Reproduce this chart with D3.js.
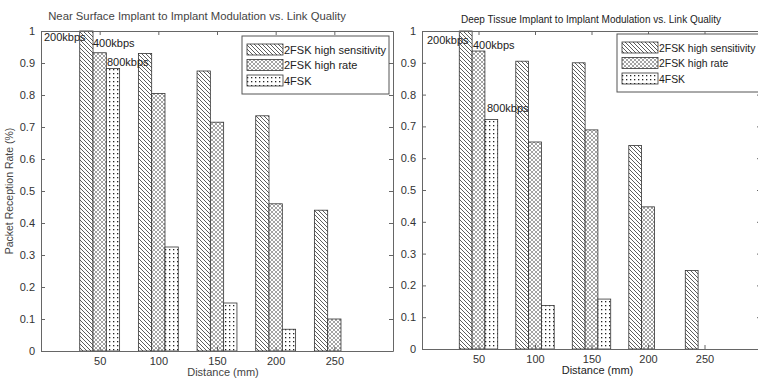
<!DOCTYPE html>
<html lang="en">
<head>
  <meta charset="UTF-8">
  <title>Implant to Implant Modulation vs. Link Quality</title>
  <script src="https://d3js.org/d3.v7.min.js"></script>
  <style>
    body { margin: 0; background: #fff; }
    svg { display: block; font-family: "Liberation Sans", Arial, sans-serif; }
    .axis path, .axis line { stroke: #666; }
    .axis text { fill: #333; font-size: 11px; }
    .bar { stroke: #333; stroke-width: 0.8; }
  </style>
</head>
<body>
  <svg width="758" height="381"></svg>
  <script>
    // values
    const distances = [50, 100, 150, 200, 250];
    const seriesNames = ["2FSK high sensitivity", "2FSK high rate", "4FSK"];
    const rateLabels = ["200kbps", "400kbps", "800kbps"];
    const yTicks = [0, 0.1, 0.2, 0.3, 0.4, 0.5, 0.6, 0.7, 0.8, 0.9, 1];

    const nearHighSens = [1.0, 0.93, 0.875, 0.735, 0.44];
    const nearHighRate = [0.932, 0.805, 0.715, 0.46, 0.1];
    const near4FSK = [0.883, 0.325, 0.15, 0.068, 0];

    const deepHighSens = [1.0, 0.905, 0.9, 0.64, 0.247];
    const deepHighRate = [0.937, 0.651, 0.689, 0.447, 0];
    const deep4FSK = [0.722, 0.137, 0.157, 0, 0];

    const svg = d3.select("svg");

    // fill patterns like the matlab hatchfill
    const defs = svg.append("defs");
    const hatch = defs.append("pattern").attr("id", "p0")
      .attr("patternUnits", "userSpaceOnUse").attr("width", 4).attr("height", 4);
    hatch.append("rect").attr("width", 4).attr("height", 4).attr("fill", "#fff");
    hatch.append("path").attr("d", "M0,0L4,4M-1,3L1,5M3,-1L5,1")
      .attr("stroke", "#333").attr("stroke-width", 0.8);

    const cross = defs.append("pattern").attr("id", "p1")
      .attr("patternUnits", "userSpaceOnUse").attr("width", 4).attr("height", 4);
    cross.append("rect").attr("width", 4).attr("height", 4).attr("fill", "#fff");
    cross.append("path").attr("d", "M0,0L4,4M-1,3L1,5M3,-1L5,1M0,4L4,0M-1,1L1,-1M3,5L5,3")
      .attr("stroke", "#666").attr("stroke-width", 0.6);

    const dots = defs.append("pattern").attr("id", "p2")
      .attr("patternUnits", "userSpaceOnUse").attr("width", 4).attr("height", 4);
    dots.append("rect").attr("width", 4).attr("height", 4).attr("fill", "#fff");
    dots.append("rect").attr("x", 1).attr("y", 1).attr("width", 1.3).attr("height", 1.3).attr("fill", "#222");

    function drawPanel(p) {
      const x = d3.scaleLinear().domain([0, 300]).range([p.left, p.right]);
      const y = d3.scaleLinear().domain([0, 1]).range([p.bottom, p.top]);
      const inner = d3.scaleBand().domain(seriesNames)
        .range([x(-17) - x(0), x(17) - x(0)]);

      const g = svg.append("g");

      // bars
      const series = [p.hs, p.hr, p.q];
      series.forEach((vals, si) => {
        g.append("g").selectAll("rect")
          .data(distances.map((d, i) => ({ d, v: vals[i] })).filter(e => e.v > 0))
          .join("rect")
          .attr("class", "bar")
          .attr("x", e => x(e.d) + inner(seriesNames[si]))
          .attr("y", e => y(e.v))
          .attr("width", inner.bandwidth())
          .attr("height", e => y(0) - y(e.v))
          .attr("fill", `url(#p${si})`);
      });

      // axes, matlab style: ticks inside, box on
      g.append("g").attr("class", "axis")
        .attr("transform", `translate(0,${p.bottom})`)
        .call(d3.axisBottom(x).tickValues(distances).tickSize(-4).tickSizeOuter(0).tickPadding(6));
      g.append("g").attr("class", "axis")
        .attr("transform", `translate(0,${p.top})`)
        .call(d3.axisTop(x).tickValues(distances).tickSize(-4).tickSizeOuter(0).tickFormat(""));
      g.append("g").attr("class", "axis")
        .attr("transform", `translate(${p.left},0)`)
        .call(d3.axisLeft(y).tickValues(yTicks).tickSize(-4).tickSizeOuter(0).tickPadding(6)
          .tickFormat(d3.format("~g")));
      g.append("g").attr("class", "axis")
        .attr("transform", `translate(${p.right},0)`)
        .call(d3.axisRight(y).tickValues(yTicks).tickSize(-4).tickSizeOuter(0).tickFormat(""));

      g.selectAll(".axis text").attr("fill", p.textColor);

      // title and axis labels
      g.append("text").attr("x", p.titleX).attr("y", p.titleY)
        .attr("text-anchor", "middle").attr("font-size", p.titleSize)
        .attr("fill", p.textColor).text(p.title);
      g.append("text").attr("x", x(150) + 6).attr("y", p.bottom + 25)
        .attr("text-anchor", "middle").attr("font-size", 11)
        .attr("fill", p.textColor).text("Distance (mm)");

      // data rate notes over the first group
      p.notes.forEach((n, i) => {
        g.append("text").attr("x", n[0]).attr("y", n[1])
          .attr("font-size", 11).attr("fill", "#222").text(rateLabels[i]);
      });

      // legend
      const lg = g.append("g").attr("transform", `translate(${p.legend[0]},${p.legend[1]})`);
      lg.append("rect").attr("width", p.legend[2]).attr("height", 58)
        .attr("fill", "#fff").attr("stroke", "#555");
      seriesNames.forEach((s, i) => {
        lg.append("rect").attr("x", 5).attr("y", 8 + i * 15.5)
          .attr("width", 36).attr("height", 11)
          .attr("fill", `url(#p${i})`).attr("stroke", "#333").attr("stroke-width", 0.8);
        lg.append("text").attr("x", 42).attr("y", 17.5 + i * 15.5)
          .attr("font-size", p.legendSize).attr("fill", "#222").text(s);
      });
    }

    drawPanel({
      id: 1, left: 41, right: 393, top: 31, bottom: 351,
      hs: nearHighSens, hr: nearHighRate, q: near4FSK,
      title: "Near Surface Implant to Implant Modulation vs. Link Quality",
      titleX: 197, titleY: 20, titleSize: 11.3, textColor: "#444",
      notes: [[44, 41], [93, 47], [107, 66]],
      legend: [242, 36, 147], legendSize: 11
    });

    drawPanel({
      id: 2, left: 422, right: 761, top: 31, bottom: 349,
      hs: deepHighSens, hr: deepHighRate, q: deep4FSK,
      title: "Deep Tissue Implant to Implant Modulation vs. Link Quality",
      titleX: 591, titleY: 23, titleSize: 10, textColor: "#222",
      notes: [[427, 44], [473, 49], [487, 112]],
      legend: [617, 34, 150], legendSize: 10.4
    });

    // y label only on the first panel
    svg.append("text")
      .attr("transform", "translate(13,191) rotate(-90)")
      .attr("text-anchor", "middle").attr("font-size", 10.5).attr("fill", "#444")
      .text("Packet Reception Rate (%)");
  </script>
</body>
</html>
